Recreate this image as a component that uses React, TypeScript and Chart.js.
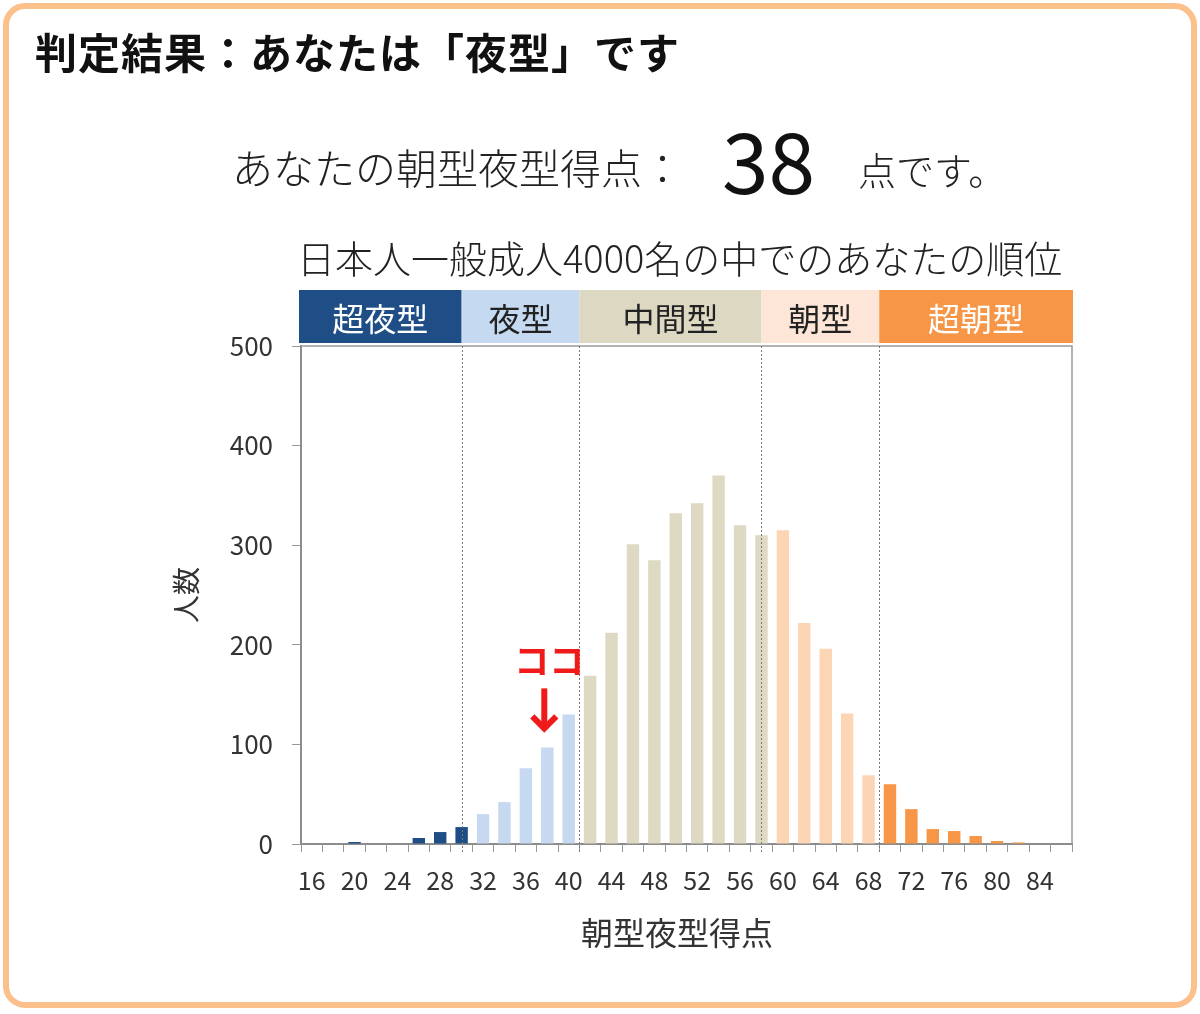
import React, { useEffect, useRef } from 'react';
import { Chart, registerables } from 'chart.js';

Chart.register(...registerables);

// ---- data ----
const scores = [16, 18, 20, 22, 24, 26, 28, 30, 32, 34, 36, 38, 40, 42, 44, 46, 48, 50, 52, 54, 56, 58, 60, 62, 64, 66, 68, 70, 72, 74, 76, 78, 80, 82, 84, 86];
const counts = [0, 0, 2, 0, 0, 6, 12, 17, 30, 42, 76, 97, 130, 169, 212, 301, 285, 332, 342, 370, 320, 310, 315, 222, 196, 131, 69, 60, 35, 15, 13, 8, 3, 1.5, 0, 0];
const tickLabels = ['16', '20', '24', '28', '32', '36', '40', '44', '48', '52', '56', '60', '64', '68', '72', '76', '80', '84'];
const yTicks = [0, 100, 200, 300, 400, 500];
const groupLabels = ['超夜型', '夜型', '中間型', '朝型', '超朝型'];
const groupLastScore = [30, 40, 58, 68, 86];
const dividerScores = [30, 41, 58, 69];
const myScore = 38;

// ---- styles ----
const groupBarColors = ['#1f4e87', '#c6d9f1', '#ddd9c3', '#fcd5b5', '#f79646'];
const groupHeaderColors = ['#1f4e87', '#c5d9f1', '#dcd8c2', '#fde6d8', '#f79646'];
const groupHeaderTextColors = ['#ffffff', '#222222', '#222222', '#222222', '#ffffff'];
const FONT = '"Noto Sans CJK JP", "Noto Sans", sans-serif';

const groupOf = (s: number) => {
  for (let g = 0; g < groupLastScore.length; g++) if (s <= groupLastScore[g]) return g;
  return groupLastScore.length - 1;
};

const overlayPlugin = {
  id: 'overlay',
  afterDraw(chart: any) {
    const { ctx, chartArea: a, scales } = chart;
    const x = scales.x;
    const y = scales.y;
    const p0 = x.getPixelForValue(0);
    const cw = x.getPixelForValue(1) - p0;
    const px = (s: number) => p0 + ((s - scores[0]) / 2) * cw;
    ctx.save();
    // box top/right
    ctx.strokeStyle = '#9a9a9a';
    ctx.lineWidth = 1.5;
    ctx.beginPath();
    ctx.moveTo(a.left, a.top);
    ctx.lineTo(a.right, a.top);
    ctx.lineTo(a.right, a.bottom);
    ctx.stroke();
    // dividers
    ctx.setLineDash([2, 2]);
    ctx.strokeStyle = '#777777';
    ctx.lineWidth = 1;
    dividerScores.forEach((s) => {
      const X = Math.round(px(s)) + 0.5;
      ctx.beginPath();
      ctx.moveTo(X, a.top);
      ctx.lineTo(X, a.bottom + 9);
      ctx.stroke();
    });
    ctx.setLineDash([]);
    // header bands
    const edges = [a.left - 2, ...dividerScores.map(px), a.right + 1];
    ctx.font = `32px ${FONT}`;
    ctx.textAlign = 'center';
    ctx.textBaseline = 'middle';
    for (let g = 0; g < groupLabels.length; g++) {
      ctx.fillStyle = groupHeaderColors[g];
      ctx.fillRect(edges[g], a.top - 56, edges[g + 1] - edges[g], 53);
      ctx.fillStyle = groupHeaderTextColors[g];
      ctx.fillText(groupLabels[g], (edges[g] + edges[g + 1]) / 2, a.top - 27);
    }
    // marker
    const idx = scores.indexOf(myScore);
    const bx = x.getPixelForValue(idx);
    const by = y.getPixelForValue(counts[idx]);
    ctx.fillStyle = '#f01a1a';
    ctx.font = `bold 35px ${FONT}`;
    ctx.fillText('ココ', bx + 2, by - 87);
    ctx.strokeStyle = '#f01a1a';
    ctx.lineWidth = 6;
    const ax = bx - 3;
    const tip = by - 15;
    ctx.beginPath();
    ctx.moveTo(ax, by - 59);
    ctx.lineTo(ax, tip - 4);
    ctx.stroke();
    ctx.lineJoin = 'miter';
    ctx.beginPath();
    ctx.moveTo(ax - 12, tip - 16);
    ctx.lineTo(ax, tip - 4);
    ctx.lineTo(ax + 12, tip - 16);
    ctx.stroke();
    ctx.restore();
  },
};

function HistogramChart() {
  const ref = useRef<HTMLCanvasElement>(null);
  useEffect(() => {
    if (!ref.current) return;
    const chart = new Chart(ref.current, {
      type: 'bar',
      data: {
        labels: scores.map(String),
        datasets: [
          {
            data: counts,
            backgroundColor: scores.map((s) => groupBarColors[groupOf(s)]),
            barPercentage: 0.58,
            categoryPercentage: 1,
          },
        ],
      },
      options: {
        responsive: false,
        animation: false,
        devicePixelRatio: 1,
        layout: { padding: { left: 160, right: 128, top: 346, bottom: 50 } },
        plugins: { legend: { display: false }, tooltip: { enabled: false } },
        scales: {
          x: {
            afterFit: (s: any) => { s.height = 120; },
            grid: { display: true, drawOnChartArea: false, drawTicks: true, tickLength: 8, color: '#999999', offset: true },
            border: { display: true, color: '#8c8c8c', width: 2 },
            ticks: {
              autoSkip: false,
              maxRotation: 0,
              padding: 13,
              color: '#333333',
              font: { family: FONT, size: 25 },
              callback: (_v: any, i: number) => (tickLabels.includes(String(scores[i])) ? String(scores[i]) : ''),
            },
            title: { display: false, text: '朝型夜型得点' },
          },
          y: {
            min: 0,
            max: 500,
            afterFit: (s: any) => { s.width = 141; },
            afterBuildTicks: (s: any) => { s.ticks = yTicks.map((v) => ({ value: v })); },
            grid: { display: true, drawOnChartArea: false, drawTicks: true, tickLength: 9, color: '#999999' },
            border: { display: true, color: '#8c8c8c', width: 2 },
            ticks: { padding: 19, color: '#333333', font: { family: FONT, size: 26 } },
            title: { display: true, text: '人数', color: '#333333', font: { family: FONT, size: 28 }, padding: { top: 10, bottom: 0 } },
          },
        },
      },
      plugins: [overlayPlugin],
    } as any);
    return () => chart.destroy();
  }, []);
  return <canvas ref={ref} width={1200} height={1014} style={{ position: 'absolute', left: 0, top: 0, width: 1200, height: 1014 }} />;
}

export default function App() {
  const txt: React.CSSProperties = { position: 'absolute', fontFamily: FONT, lineHeight: 1, whiteSpace: 'nowrap', margin: 0 };
  return (
    <div style={{ position: 'fixed', left: 0, top: 0, width: 1200, height: 1014, background: '#ffffff', overflow: 'hidden' }}>
      <div style={{ position: 'absolute', left: 3, top: 3, width: 1194, height: 1005, border: '6px solid #fcc18b', borderRadius: 22, boxSizing: 'border-box' }} />
      <HistogramChart />
      <div style={{ ...txt, left: 35, top: 30, fontSize: 42, fontWeight: 700, letterSpacing: 1, color: '#111111' }}>判定結果：あなたは「夜型」です</div>
      <div style={{ ...txt, left: 232, top: 146, fontSize: 41, fontWeight: 300, color: '#222222' }}>あなたの朝型夜型得点：</div>
      <div style={{ ...txt, left: 722, top: 116, fontSize: 84, fontWeight: 400, color: '#111111' }}>38</div>
      <div style={{ ...txt, left: 858, top: 150, fontSize: 38, fontWeight: 300, color: '#222222' }}>点です。</div>
      <div style={{ ...txt, left: 297, top: 238, fontSize: 38, fontWeight: 300, color: '#222222' }}>日本人一般成人4000名の中でのあなたの順位</div>
      <div style={{ ...txt, left: 677, top: 915, transform: 'translateX(-50%)', fontSize: 32, fontWeight: 400, color: '#333333' }}>朝型夜型得点</div>
    </div>
  );
}
